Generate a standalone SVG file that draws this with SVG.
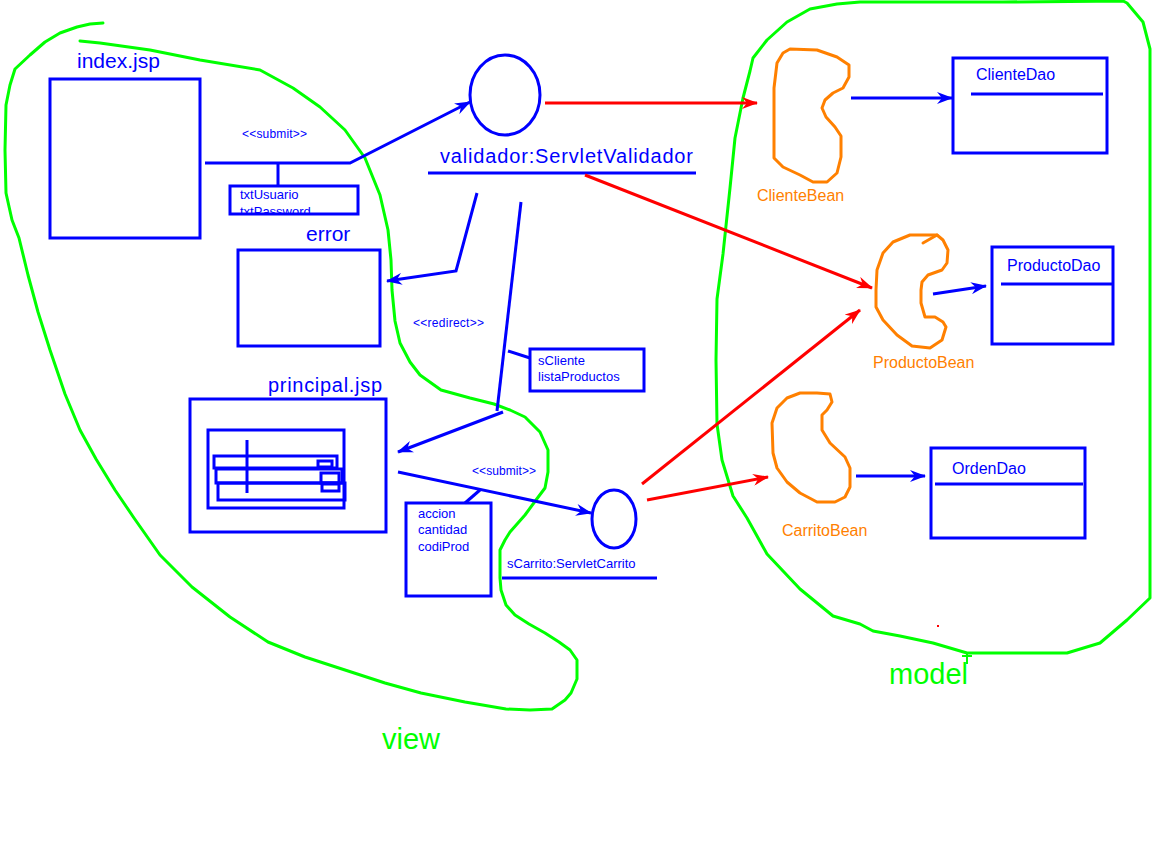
<svg xmlns="http://www.w3.org/2000/svg" width="1152" height="864" viewBox="0 0 1152 864">
<style>
.b{stroke:#0000ff;stroke-width:3;fill:none}
.r{stroke:#ff0000;stroke-width:3;fill:none}
.g{stroke:#00ff00;stroke-width:3;fill:none;stroke-linejoin:round;stroke-linecap:round}
.o{stroke:#ff8000;stroke-width:3;fill:none;stroke-linejoin:round;stroke-linecap:round}
text{font-family:"Liberation Sans",Arial,sans-serif}
.tb{fill:#0000ff}
.to{fill:#ff8000;font-size:16px}
.tg{fill:#00ff00;font-size:29px}
.big{font-size:21px}
.sm{font-size:12px}
.md{font-size:13px}
.dao{font-size:16px}
</style>
<defs>
<marker id="ab" viewBox="0 0 16 12" refX="15" refY="6" markerWidth="16" markerHeight="12" markerUnits="userSpaceOnUse" orient="auto"><path d="M0,0 L16,6 L0,12 L5,6 z" fill="#0000ff"/></marker>
<marker id="ar" viewBox="0 0 16 12" refX="15" refY="6" markerWidth="16" markerHeight="12" markerUnits="userSpaceOnUse" orient="auto"><path d="M0,0 L16,6 L0,12 L5,6 z" fill="#ff0000"/></marker>
<clipPath id="clipLogin"><rect x="230" y="186" width="128" height="28"/></clipPath>
</defs>
<rect width="1152" height="864" fill="#ffffff"/>

<g id="view-region">
<polyline class="g" points="103,23 90,24 77,27 60,33 45,42 30,55 15,69 10,85 6,105 5,150 6,193 12,220 19,238 28,275 38,312 50,350 65,394 80,430 96,459 115,490 134,518 160,555 192,587 230,617 268,642 305,657 345,670 385,683 421,693 465,702 506,709 530,710 552,709 565,700 571,693 577,679 577,660 570,650 559,642 545,633 529,624 515,615 506,605 501,590 500,578 500,550 505,540 510,532 525,515 536,500 545,488 548,472 548,450 540,432 525,417 510,410 494,404 470,398 441,390 420,375 410,362 400,343 395,321 392,290 391,260 388,230 380,195 365,158 345,130 320,107 293,88 260,70 200,60 150,50 100,43 80,41"/>
<text class="tg" x="382" y="749">view</text>
</g>

<g id="model-region">
<polyline class="g" points="1123,1 1003,2 860,2 837,4 810,9 787,22 767,40 753,58 750,71 743,98 735,138 730,188 723,254 717,299 716,360 717,424 722,460 733,496 747,518 767,554 800,589 833,616 860,624 873,631 900,636 933,643 967,653 1067,653 1100,643 1127,620 1150,598 1150,90 1150,49 1143,22 1127,3 1123,1"/>
<path d="M967,652 L967,664 M962,656 L972,656" stroke="#00ff00" stroke-width="2" fill="none"/>
<rect x="937" y="625" width="2" height="2" fill="#ff0000"/>
<text class="tg" x="889" y="684">model</text>
</g>

<g id="index-jsp">
<text class="tb big" x="77" y="68">index.jsp</text>
<rect class="b" x="50" y="79" width="150" height="159"/>
</g>

<g id="login-params">
<g clip-path="url(#clipLogin)">
<text class="tb md" x="240" y="199">txtUsuario</text>
<text class="tb md" x="240" y="216">txtPassword</text>
</g>
<rect class="b" x="230" y="186" width="128" height="28"/>
</g>

<g id="error">
<text class="tb big" x="306" y="241">error</text>
<rect class="b" x="238" y="250" width="142" height="96"/>
</g>

<g id="principal-jsp">
<text class="tb" x="268" y="392" font-size="20" textLength="114">principal.jsp</text>
<rect class="b" x="190" y="399" width="196" height="133"/>
<rect class="b" x="208" y="430" width="136" height="78"/>
<rect class="b" x="218" y="483" width="127" height="17"/>
<rect class="b" x="216" y="469" width="126" height="14"/>
<rect class="b" x="214" y="456" width="123" height="12"/>
<line class="b" x1="247" y1="440" x2="247" y2="493"/>
<rect class="b" x="318" y="461" width="14" height="6" fill="#fff"/>
<rect class="b" x="321" y="473" width="18" height="10" fill="#fff"/>
<rect class="b" x="322" y="484" width="17" height="7" fill="#fff"/>
</g>

<g id="validador">
<ellipse class="b" cx="505" cy="95" rx="35" ry="40"/>
<text class="tb" x="440" y="163" font-size="20" textLength="253">validador:ServletValidador</text>
<line class="b" x1="428" y1="173" x2="696" y2="173"/>
</g>

<g id="session-params">
<rect class="b" x="530" y="349" width="114" height="42"/>
<text class="tb md" x="538" y="365">sCliente</text>
<text class="tb md" x="538" y="381">listaProductos</text>
</g>

<g id="carrito-params">
<rect class="b" x="406" y="503" width="85" height="93"/>
<text class="tb md" x="418" y="518">accion</text>
<text class="tb md" x="418" y="534">cantidad</text>
<text class="tb md" x="418" y="551">codiProd</text>
</g>

<g id="sCarrito">
<ellipse class="b" cx="614" cy="519" rx="22" ry="29"/>
<text class="tb md" x="507" y="568">sCarrito:ServletCarrito</text>
<line class="b" x1="502" y1="578" x2="657" y2="578"/>
</g>

<g id="ClienteBean">
<polygon class="o" points="790,49 817,50 837,57 849,65 849,77 843,88 833,93 825,100 822,108 826,117 835,127 841,136 841,157 837,173 827,182 813,182 800,175 783,167 774,158 774,88 777,63 783,53"/>
<text class="to" x="757" y="201">ClienteBean</text>
</g>

<g id="ProductoBean">
<polygon class="o" points="937,235 910,235 893,242 883,253 877,270 876,290 876,307 883,320 897,335 912,346 930,348 942,340 946,327 943,322 935,317 925,317 921,303 921,290 922,282 928,275 942,270 947,263 948,250 943,240"/>
<line class="o" x1="923" y1="243" x2="937" y2="235"/>
<text class="to" x="873" y="368">ProductoBean</text>
</g>

<g id="CarritoBean">
<polygon class="o" points="817,393 830,394 832,402 827,410 822,415 822,430 830,443 845,457 850,468 850,487 845,497 835,502 817,502 800,493 787,482 777,468 773,453 772,423 777,408 787,398 800,393"/>
<text class="to" x="782" y="536">CarritoBean</text>
</g>

<g id="ClienteDao">
<rect class="b" x="953" y="58" width="154" height="95"/>
<text class="tb dao" x="976" y="80">ClienteDao</text>
<line class="b" x1="971" y1="94" x2="1103" y2="94"/>
</g>

<g id="ProductoDao">
<rect class="b" x="992" y="247" width="121" height="97"/>
<text class="tb dao" x="1007" y="271">ProductoDao</text>
<line class="b" x1="1001" y1="284" x2="1114" y2="284"/>
</g>

<g id="OrdenDao">
<rect class="b" x="931" y="448" width="154" height="90"/>
<text class="tb dao" x="952" y="474">OrdenDao</text>
<line class="b" x1="935" y1="484" x2="1083" y2="484"/>
</g>

<g id="connectors">
<polyline class="b" points="205,163 350,163 470,102" marker-end="url(#ab)"/>
<line class="b" x1="278" y1="163" x2="278" y2="186"/>
<text class="tb sm" x="242" y="138" textLength="65">&lt;&lt;submit&gt;&gt;</text>
<polyline class="b" points="477,193 456,271 387,281" marker-end="url(#ab)"/>
<line class="b" x1="521" y1="202" x2="497" y2="411"/>
<line class="b" x1="503" y1="412" x2="398" y2="452" marker-end="url(#ab)"/>
<text class="tb sm" x="413" y="327" textLength="71">&lt;&lt;redirect&gt;&gt;</text>
<line class="b" x1="508" y1="351" x2="530" y2="358"/>
<line class="b" x1="398" y1="472" x2="591" y2="513" marker-end="url(#ab)"/>
<text class="tb sm" x="472" y="475" textLength="64">&lt;&lt;submit&gt;&gt;</text>
<line class="b" x1="480" y1="490" x2="465" y2="503"/>
<line class="r" x1="545" y1="103" x2="757" y2="103" marker-end="url(#ar)"/>
<line class="r" x1="585" y1="175" x2="872" y2="288" marker-end="url(#ar)"/>
<line class="r" x1="642" y1="484" x2="860" y2="310" marker-end="url(#ar)"/>
<line class="r" x1="647" y1="500" x2="768" y2="477" marker-end="url(#ar)"/>
<line class="b" x1="851" y1="98" x2="952" y2="98" marker-end="url(#ab)"/>
<line class="b" x1="933" y1="294" x2="986" y2="286" marker-end="url(#ab)"/>
<line class="b" x1="856" y1="476" x2="925" y2="476" marker-end="url(#ab)"/>
</g>
</svg>
